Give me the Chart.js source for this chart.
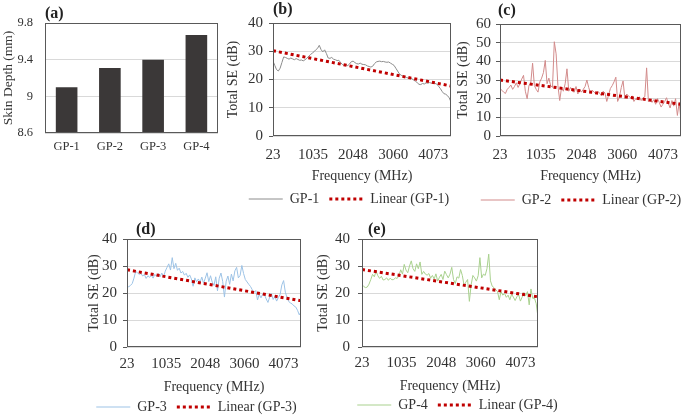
<!DOCTYPE html>
<html>
<head>
<meta charset="utf-8">
<script src="https://cdn.jsdelivr.net/npm/chart.js@4.4.0/dist/chart.umd.min.js"></script>
<style>
  html, body { margin: 0; padding: 0; background: #fff; overflow: hidden; }
  body { width: 685px; height: 416px; position: relative; }
  canvas { position: absolute; }
</style>
</head>
<body>
<canvas id="graficoA" width="225" height="160" style="left:0px;top:0px"></canvas>
<canvas id="graficoB" width="248" height="216" style="left:225px;top:0px"></canvas>
<canvas id="graficoC" width="252" height="217" style="left:455px;top:0px"></canvas>
<canvas id="graficoD" width="221" height="212" style="left:86px;top:212px"></canvas>
<canvas id="graficoE" width="285" height="210" style="left:315px;top:212px"></canvas>
<script>
// panel (a)
const grupos = ['GP-1', 'GP-2', 'GP-3', 'GP-4'];
const skinDepth = [9.10, 9.31, 9.40, 9.67];

// panels (b)-(e): frequency points (MHz)
const freqMHz = [
  23, 68, 113, 158, 203, 248, 293, 338, 383, 428,
  473, 518, 563, 608, 653, 698, 743, 788, 833, 878,
  923, 968, 1013, 1058, 1103, 1148, 1193, 1238, 1283, 1328,
  1373, 1418, 1463, 1508, 1553, 1598, 1643, 1688, 1733, 1778,
  1823, 1868, 1913, 1958, 2003, 2048, 2093, 2138, 2183, 2228,
  2273, 2318, 2363, 2408, 2453, 2498, 2543, 2588, 2633, 2678,
  2723, 2768, 2813, 2858, 2903, 2948, 2993, 3038, 3083, 3128,
  3173, 3218, 3263, 3308, 3353, 3398, 3443, 3488, 3533, 3578,
  3623, 3668, 3713, 3758, 3803, 3848, 3893, 3938, 3983, 4028,
  4073, 4118, 4163, 4208, 4253, 4298, 4343, 4388, 4433, 4478,
  4523
];
const freqTicks = [23, 1035, 2048, 3060, 4073];

const seGP1 = [
  26.5, 25, 23.5, 23, 24, 26, 28, 27.8, 27.5, 27.2,
  27.6, 27.3, 27, 27.4, 27.1, 26.8, 26.9, 26.6, 27, 27.5,
  28.2, 28.8, 29.3, 29.8, 30.5, 31, 32.1, 30.6, 29.8, 30.5,
  29.2, 27.6, 27.5, 27.8, 27.2, 27, 26.7, 26.8, 26, 25.3,
  25, 25.2, 24.9, 25.5, 26.3, 26.5, 26, 25.6, 25.5, 25.8,
  25.4, 25.3, 25.2, 24.8, 24.6, 24.4, 24.7, 25.6, 26.2, 26.4,
  26.5, 26.3, 26.4, 26.2, 26.1, 26.2, 25.8, 25.4, 25, 24,
  23, 22, 21.5, 21.2, 21, 20.7, 20.5, 20.6, 20.3, 19.8,
  19.4, 18.9, 18.3, 18.2, 18.6, 18.4, 18.8, 18.7, 18.9, 18.7,
  18.8, 18.6, 18.4, 17.6, 16.8, 15.8, 15, 14.8, 14.3, 13.5,
  12
];
const seGP2 = [
  25.5, 24.5, 23.5, 22.8, 25, 26, 27.3, 25, 26.5, 28.5,
  26, 28, 30.5, 32.5, 24, 20, 27, 28.5, 39, 27,
  25, 23.5, 29, 31, 34, 40.5, 28, 31, 27, 26,
  50.5, 44, 27, 19, 26, 24, 28, 36, 24, 26,
  24, 23.5, 26.5, 22.5, 25, 23.5, 25, 26.5, 30, 26,
  23, 24.5, 23.5, 22.5, 24, 23, 21.5, 24, 23, 18.5,
  22, 25.5, 27, 29, 31.5, 18.5, 21, 26, 29.5, 20,
  22.5, 21.5, 20.5, 21.5, 18.5, 20, 19.5, 21, 19, 20.5,
  21, 36.5, 18.5, 19.5, 18, 19.5, 17, 20, 18, 15.5,
  17, 18.5, 20.5, 17.5, 15, 19, 16, 20, 11, 18,
  8.5
];
const seGP3 = [
  22.6, 22.3, 22.8, 23.5, 25.5, 28, 27.5, 26.9, 27.2, 26.3,
  26.8, 25.4, 26.4, 25.8, 26.6, 25.5, 26.9, 26.2, 27.2, 26,
  27.4, 25.9, 28.1, 29.5, 30.8, 28.5, 33.1, 29, 31, 28.4,
  29.2, 27.4, 28, 26.6, 27.3, 25.8, 26.7, 25.2, 22.5, 25.6,
  24.2, 25.2, 24, 25.9, 23.6, 25.5, 27.5, 24.2, 26.4, 24,
  22.8, 26, 20.8, 25.5, 27.4, 24.3, 18.5, 24.4, 26.3, 23.2,
  27, 24.5, 28.2, 29.5, 25.6, 26.5, 30.2, 27.2, 25, 24.1,
  23.2, 22.4, 21.2, 20.2, 20.9, 17.4, 19.5, 18.2, 19.6, 19.4,
  17.8, 16.5, 18.5, 19.8, 17.6, 18.7, 17, 18.3, 19.5, 23,
  24.6, 20.3, 18.2, 16.8, 16.3, 15.9, 15.2, 14.8, 13.6, 11.9,
  13
];
const seGP4 = [
  23.1, 22.4, 22, 22.2, 23.3, 25, 26.9, 26, 28.1, 26.4,
  25.4, 26.2, 24.8, 25, 25.6, 24.7, 25.5, 24.9, 25, 25.6,
  25.4, 26.5, 28.6, 27, 30.6, 28.5, 27.5, 30, 31.9, 29,
  28, 30.8, 29, 31.5, 26.9, 28, 27, 26.6, 27.2, 25.5,
  26.5, 25.2, 27.1, 24.4, 25.8, 26.9, 25, 28.1, 26.8, 25.6,
  27, 29.5, 25, 23.5, 26, 25.5, 28.7, 26.5, 22.8, 24,
  25, 16.9, 23, 26.5, 25.6, 24.4, 26.4, 33.1, 25.6, 27,
  26.5, 29, 34.4, 24.5, 22.5, 22, 21.2, 20.5, 17.5, 20.5,
  19.2, 19.8, 18.4, 19.2, 17.5, 19.5, 18.5, 17.2, 18.6, 19.4,
  17, 18.5, 20.2, 19, 20.5, 15.6, 21.5, 18, 18.1, 16,
  11
];

// linear trend lines (start / end of the frequency range)
const trendFreq = [23, 4523];
const trendGP1 = [30.2, 17.7];
const trendGP2 = [30.0, 17.0];
const trendGP3 = [28.6, 17.1];
const trendGP4 = [28.7, 18.6];

Chart.defaults.font.family = "'Liberation Serif', 'Times New Roman', serif";
Chart.defaults.color = '#333';

// box around the plot area
const moldura = {
  id: 'moldura',
  afterDatasetsDraw(chart) {
    const { ctx, chartArea: a } = chart;
    ctx.save();
    ctx.strokeStyle = '#595959';
    ctx.lineWidth = 1;
    ctx.strokeRect(Math.round(a.left) + 0.5, Math.round(a.top) + 0.5,
      Math.round(a.right - a.left) - 1, Math.round(a.bottom - a.top) - 1);
    ctx.restore();
  }
};

// (a), (b) ... label above the plot
const rotulo = {
  id: 'rotulo',
  afterDraw(chart, args, opts) {
    const { ctx, chartArea: a } = chart;
    ctx.save();
    ctx.font = "bold 16px 'Liberation Serif', serif";
    ctx.fillStyle = '#222';
    ctx.textAlign = 'left';
    ctx.textBaseline = 'middle';
    ctx.fillText(opts.text, a.left + opts.dx, a.top - opts.dy);
    ctx.restore();
  }
};

new Chart(document.getElementById('graficoA').getContext('2d'), {
  type: 'bar',
  data: {
    labels: grupos,
    datasets: [{
      data: skinDepth,
      backgroundColor: '#3b3838',
      barPercentage: 0.5,
      categoryPercentage: 1
    }]
  },
  options: {
    responsive: false,
    animation: false,
    layout: { padding: { top: 23, right: 7, left: 0, bottom: 0 } },
    plugins: {
      legend: { display: false },
      tooltip: { enabled: false },
      rotulo: { text: '(a)', dx: 0, dy: 9 }
    },
    scales: {
      x: {
        grid: { display: false, drawTicks: false },
        border: { display: false },
        ticks: { padding: 6, font: { size: 12.5 } },
        afterFit: s => { s.height = 27; }
      },
      y: {
        min: 8.6,
        max: 9.8,
        ticks: { stepSize: 0.4, padding: 12, font: { size: 12.5 }, callback: v => String(Math.round(v * 10) / 10) },
        grid: { color: '#d9d9d9', drawTicks: false },
        border: { display: false },
        title: { display: true, text: 'Skin Depth (mm)', font: { size: 13.5 }, padding: 0 },
        afterFit: s => { s.width = 45; }
      }
    }
  },
  plugins: [moldura, rotulo]
});

// legend items keep the dotted pattern of the trend line
function legendaComTraco(chart) {
  return Chart.defaults.plugins.legend.labels.generateLabels(chart).map(item => {
    const ds = chart.data.datasets[item.datasetIndex];
    item.lineDash = ds.borderDash || [];
    item.lineWidth = ds.borderWidth;
    return item;
  });
}

function graficoSE(id, cfg) {
  new Chart(document.getElementById(id).getContext('2d'), {
    type: 'line',
    data: {
      labels: freqMHz,
      datasets: [{
        label: cfg.nome,
        data: cfg.valores,
        borderColor: cfg.cor,
        backgroundColor: cfg.cor,
        borderWidth: 1,
        pointRadius: 0,
        tension: 0,
        order: 1
      }, {
        label: 'Linear (' + cfg.nome + ')',
        data: cfg.tendencia.map((v, i) => ({ x: trendFreq[i], y: v })),
        borderColor: '#c00000',
        backgroundColor: '#c00000',
        borderWidth: 3,
        borderDash: [3, 3],
        pointRadius: 0,
        order: 0
      }]
    },
    options: {
      responsive: false,
      animation: false,
      layout: { padding: { top: cfg.topo, left: 0, right: 0, bottom: 0 } },
      plugins: {
        legend: {
          position: 'bottom',
          labels: {
            usePointStyle: true,
            pointStyle: 'line',
            pointStyleWidth: 34,
            padding: 10,
            font: { size: 14 },
            generateLabels: legendaComTraco,
            sort: (a, b) => a.datasetIndex - b.datasetIndex
          }
        },
        tooltip: { enabled: false },
        rotulo: { text: cfg.letra, dx: cfg.dx, dy: cfg.dy }
      },
      scales: {
        x: {
          type: 'linear',
          min: 23,
          max: 4523,
          afterBuildTicks: s => { s.ticks = freqTicks.map(v => ({ value: v })); },
          ticks: { callback: v => String(v), padding: cfg.padX, font: { size: 15 }, maxRotation: 0, autoSkip: false },
          grid: { display: false, drawTicks: false },
          border: { display: false },
          title: { display: true, text: 'Frequency (MHz)', font: { size: 14 }, padding: { top: 0, bottom: cfg.padTitX } },
          afterFit: s => { s.height = cfg.altX; }
        },
        y: {
          min: 0,
          max: cfg.maxY,
          ticks: { stepSize: 10, padding: cfg.padY, font: { size: 15 }, autoSkip: false },
          grid: { color: '#d9d9d9', tickColor: '#595959', tickLength: 4 },
          border: { display: false },
          title: { display: true, text: 'Total SE (dB)', font: { size: 14 }, padding: { top: 0, bottom: 0 } },
          afterFit: s => { s.width = cfg.largY; }
        },
        folga: {
          type: 'linear',
          position: 'right',
          grid: { display: false, drawTicks: false },
          border: { display: false },
          ticks: { display: false },
          afterFit: s => { s.width = cfg.folga; }
        }
      }
    },
    plugins: [moldura, rotulo]
  });
}

graficoSE('graficoB', { nome: 'GP-1', valores: seGP1, tendencia: trendGP1, cor: '#8c8c8c', letra: '(b)', dx: 0, dy: 13,
  maxY: 40, topo: 23, largY: 48, folga: 22, altX: 46, padX: 10, padTitX: -2.4, padY: 6 });
graficoSE('graficoC', { nome: 'GP-2', valores: seGP2, tendencia: trendGP2, cor: '#d28b8b', letra: '(c)', dx: -2, dy: 13,
  maxY: 60, topo: 24, largY: 45, folga: 26, altX: 47, padX: 10, padTitX: -1.4, padY: 5 });
graficoSE('graficoD', { nome: 'GP-3', valores: seGP3, tendencia: trendGP3, cor: '#9dc3e6', letra: '(d)', dx: 9, dy: 9,
  maxY: 40, topo: 27, largY: 41, folga: 4, altX: 43, padX: 8, padTitX: -5.4, padY: 6 });
graficoSE('graficoE', { nome: 'GP-4', valores: seGP4, tendencia: trendGP4, cor: '#a9d18e', letra: '(e)', dx: 6, dy: 9,
  maxY: 40, topo: 27, largY: 47, folga: 62, altX: 41, padX: 7, padTitX: -6.4, padY: 8 });
</script>
</body>
</html>
